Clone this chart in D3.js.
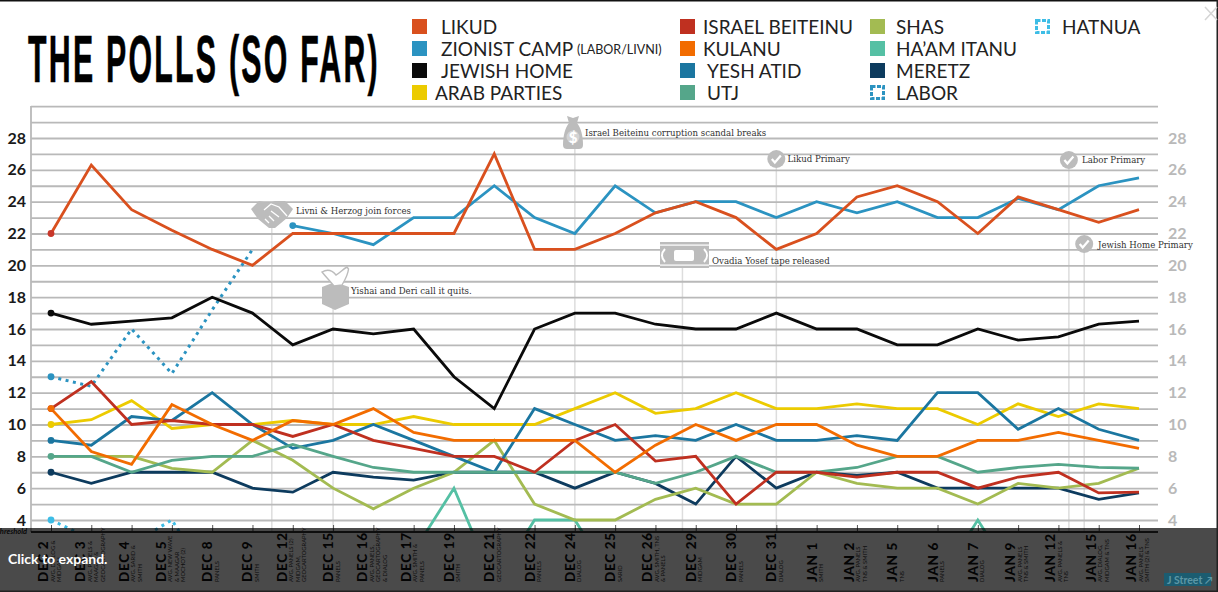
<!DOCTYPE html>
<html>
<head>
<meta charset="utf-8">
<script src="https://cdn.jsdelivr.net/npm/d3@7/dist/d3.min.js"></script>
<style>
  html, body { margin: 0; padding: 0; background: #fff; }
  svg { display: block; font-family: Lato, sans-serif; }
</style>
</head>
<body>
<svg id="chart" width="1218" height="592"></svg>
<script>
const dates = ["DEC 2","DEC 3","DEC 4","DEC 5","DEC 8","DEC 9","DEC 12","DEC 15","DEC 16","DEC 17","DEC 19","DEC 21","DEC 22","DEC 24","DEC 25","DEC 26","DEC 29","DEC 30","DEC 31","JAN 1","JAN 2","JAN 5","JAN 6","JAN 7","JAN 9","JAN 12","JAN 15","JAN 16"];
const pollsters = [
  ["AVG. DIALOG &","MIDGAM"],["AVG. PANELS &","MAAGAR &","GEOCARTOGRAPHY"],["AVG. SARID &","SMITH"],["AVG. NEW WAVE","& MAAGAR","MOCHOT (2)"],["PANELS"],["SMITH"],
  ["AVG. PANELS (2)","MIDGAM,","GEOCARTOGRAPHY"],["PANELS"],["AVG. PANELS,","GEOCARTOGRAPHY","& DIALOG"],["AVG. SMITH &","PANELS"],["SMITH"],["GEOCARTOGRAPHY"],
  ["PANELS"],["DIALOG"],["SARID"],["AVG. SMITH, TNS","& PANELS"],["MIDGAM"],["PANELS"],["DIALOG"],["SMITH"],["AVG. PANELS","TNS & SMITH"],["TNS"],["PANELS"],["DIALOG"],
  ["AVG. PANELS","TNS & SMITH"],["AVG. PANELS &","TNS"],["AVG. DIALOG,","MIDGAM & TNS"],["AVG. PANELS","SMITH (2) & TNS"]
];

const likud    = [22,26.3,23.5,22.2,21,20,22,22,22,22,22,27,21,21,22,23.3,24,23,21,22,24.3,25,24,22,24.3,23.5,22.7,23.5];
const zionist  = [null,null,null,null,null,null,22.5,22,21.3,23,23,25,23,22,25,23.3,24,24,23,24,23.3,24,23,23,24.2,23.5,25,25.5];
const jewish   = [17,16.3,16.5,16.7,18,17,15,16,15.7,16,13,11,16,17,17,16.3,16,16,17,16,16,15,15,16,15.3,15.5,16.3,16.5];
const arab     = [10,10.3,11.5,9.75,10,10,10.25,10,10,10.5,10,10,10,11,12,10.7,11,12,11,11,11.3,11,11,10,11.3,10.5,11.3,11];
const beiteinu = [11,12.7,10,10.25,10,10,9.25,10,9,8.5,8,8,7,9,10,7.7,8,5,7,7,6.7,7,7,6,6.7,7,5.7,5.75];
const kulanu   = [11,8.3,7.5,11.25,10,9,10.25,10,11,9.5,9,9,9,9,7,8.7,10,9,10,10,8.7,8,8,9,9,9.5,9,8.5];
const yesh     = [9,8.7,10.5,10.25,12,10,8.5,9,10,9,8,7,11,10,9,9.3,9,10,9,9,9.3,9,12,12,9.7,11,9.7,9];
const utj      = [8,8,7,7.75,8,8,8.75,8,7.3,7,7,7,7,7,7,6.3,7,8,7,7,7.3,8,8,7,7.3,7.5,7.3,7.25];
const shas     = [8,8,8,7.25,7,9,7.75,6,4.7,6,7,9,5,4,4,5.3,6,5,5,7,6.3,6,6,5,6.3,6,6.3,7.25];
const haam     = [0,0,0,0,0,0,0,0,0,2,6,0,4,4,0,0,0,0,0,0,0,0,0,4,0,0,0,0];
const meretz   = [7,6.3,7,7,7,6,5.75,7,6.7,6.5,7,7,7,6,7,6.3,5,8,6,7,6.8,7,6,6,6,6,5.3,5.7];
const labor    = [13,12.4,16,13.2,17.2,21];
const hatnua   = [4,2.8,2.5,4,0];

const series = [
  { name: "labor", color: "#2b93c1", values: labor, dotted: true },
  { name: "hatnua", color: "#3dbde6", values: hatnua, dotted: true },
  { name: "haam", color: "#55c0a4", values: haam, nodot: true },
  { name: "arab", color: "#eccb00", values: arab },
  { name: "meretz", color: "#0d3b5e", values: meretz },
  { name: "shas", color: "#a3bb52", values: shas, nodot: true },
  { name: "yesh", color: "#1b76a0", values: yesh },
  { name: "utj", color: "#55a68a", values: utj },
  { name: "beiteinu", color: "#bf3020", values: beiteinu },
  { name: "kulanu", color: "#f26c00", values: kulanu },
  { name: "jewish", color: "#0a0a0a", values: jewish },
  { name: "zionist", color: "#2b93c1", values: zionist },
  { name: "likud", color: "#d9501e", values: likud, dotColor: "#c8372a" }
];

const legendCols = [
  [["LIKUD","#d9501e"],["ZIONIST CAMP","#2b93c1"],["JEWISH HOME","#0a0a0a"],["ARAB PARTIES","#eccb00"]],
  [["ISRAEL BEITEINU","#bf3020"],["KULANU","#f26c00"],["YESH ATID","#1b76a0"],["UTJ","#55a68a"]],
  [["SHAS","#a3bb52"],["HA\u2019AM ITANU","#55c0a4"],["MERETZ","#0d3b5e"],["LABOR","#2b93c1"]],
  [["HATNUA","#3dbde6"]]
];
const legendSwatchX = [412, 680, 870, 1035];
const legendTextX = [[441,441,441,435],[703,703,707,707],[896,896,896,896],[1062]];

// x is in date index, events can sit between two polls
const events = [
  { label: "Livni & Herzog join forces", at: 5.48, top: 225, tx: 296, ty: 210 },
  { label: "Yishai and Deri call it quits.", at: 7, top: 305, tx: 351, ty: 290.5 },
  { label: "Israel Beiteinu corruption scandal breaks", at: 13, top: 148, tx: 585, ty: 132 },
  { label: "Ovadia Yosef tape released", at: 15.67, top: 268, tx: 712, ty: 260 },
  { label: "Likud Primary", at: 18, top: 168, tx: 787.5, ty: 158.5 },
  { label: "Labor Primary", at: 25.26, top: 168, tx: 1082, ty: 159.5 },
  { label: "Jewish Home Primary", at: 25.64, top: 252, tx: 1098, ty: 244.5 }
];

const svg = d3.select("#chart");
const x = d3.scaleLinear().domain([0, 27]).range([51, 1139]);
const y = d3.scaleLinear().domain([4, 28]).range([520, 138]);
const left = 31, right = 1158, bottom = 532;
const lineFn = (vals) => d3.line()
  .defined((d) => d != null)
  .x((d, i) => x(i))
  .y((d) => y(d))(vals);

svg.append("defs").append("clipPath").attr("id", "plot")
  .append("rect").attr("x", 0).attr("y", 0).attr("width", 1218).attr("height", bottom);

svg.append("rect").attr("width", 1218).attr("height", 1.5).attr("fill", "#111");

// title, squeezed by hand because there is no condensed gothic here
const title = svg.append("text")
  .style("font-family", "'Liberation Sans', sans-serif")
  .style("font-weight", 700).style("font-size", "67px")
  .style("letter-spacing", "5px")
  .attr("stroke", "#000").attr("stroke-width", 0.6)
  .text("THE POLLS (SO FAR)");
title.attr("transform", `translate(28,82) scale(${352 / title.node().getComputedTextLength()},1)`);

// legend
legendCols.forEach((col, c) => {
  col.forEach((item, r) => {
    const cy = 26.5 + r * 22;
    const hollow = item[0] === "LABOR" || item[0] === "HATNUA";
    svg.append("rect")
      .attr("x", legendSwatchX[c] + (hollow ? 1.5 : 0)).attr("y", cy - 7.5 + (hollow ? 1.5 : 0))
      .attr("width", hollow ? 12 : 15).attr("height", hollow ? 12 : 15)
      .attr("fill", hollow ? "#fff" : item[1])
      .attr("stroke", hollow ? item[1] : "none")
      .attr("stroke-width", hollow ? 3 : 0)
      .attr("stroke-dasharray", hollow ? "4 1.5" : null);
    svg.append("text")
      .attr("x", legendTextX[c][r]).attr("y", cy + 7)
      .attr("fill", "#222")
      .style("font-size", "19px")
      .text(item[0]);
  });
});
svg.append("text").attr("x", 577).attr("y", 54).attr("fill", "#222")
  .style("font-size", "12.5px").text("(LABOR/LIVNI)");

// event rules under the grid
svg.append("g").selectAll("line").data(events).join("line")
  .attr("x1", (d) => x(d.at)).attr("x2", (d) => x(d.at))
  .attr("y1", (d) => d.top).attr("y2", bottom)
  .attr("stroke", "#ddd").attr("stroke-width", 1.5);

// grid
const gridVals = d3.range(4, 31);
const grid = svg.append("g").attr("transform", `translate(${left},0)`)
  .call(d3.axisLeft(y).tickValues(gridVals).tickSize(-(right - left)).tickFormat(""));
grid.select(".domain").remove();
grid.selectAll("line").attr("stroke", "#b9b9b9").attr("stroke-width", 1.8);

svg.append("line").attr("x1", left).attr("x2", left).attr("y1", 106).attr("y2", bottom)
  .attr("stroke", "#b9b9b9").attr("stroke-width", 1.8);

const evenVals = d3.range(4, 29, 2);
const yLeft = svg.append("g").attr("transform", "translate(27,0)")
  .call(d3.axisLeft(y).tickValues(evenVals).tickSize(0));
yLeft.select(".domain").remove();
yLeft.selectAll("text").attr("x", -1).attr("fill", "#1a1a1a")
  .style("font-family", "Lato, sans-serif").style("font-size", "16px").style("font-weight", 700);

const yRight = svg.append("g").attr("transform", "translate(1168,0)")
  .call(d3.axisRight(y).tickValues(evenVals).tickSize(0));
yRight.select(".domain").remove();
yRight.selectAll("text").attr("x", 0).attr("fill", "#b9b9b9")
  .style("font-family", "Lato, sans-serif").style("font-size", "16px").style("font-weight", 700);

// series
const lines = svg.append("g").attr("clip-path", "url(#plot)");
lines.selectAll("path").data(series).join("path")
  .attr("d", (d) => lineFn(d.values))
  .attr("fill", "none")
  .attr("stroke", (d) => d.color)
  .attr("stroke-width", (d) => (d.dotted ? 3 : 2.8))
  .attr("stroke-linejoin", "miter")
  .attr("stroke-dasharray", (d) => (d.dotted ? "3 4.5" : null));

lines.selectAll("circle")
  .data(series.filter((d) => !d.nodot))
  .join("circle")
  .attr("cx", (d) => x(d.values.findIndex((v) => v != null)))
  .attr("cy", (d) => y(d.values.find((v) => v != null)))
  .attr("r", 3.4)
  .attr("fill", (d) => d.dotColor || d.color);

// icons, all in the same flat grey
const iconGrey = "#bcbcbc";
const icons = svg.append("g").attr("fill", iconGrey);

// handshake
const hs = icons.append("g").attr("transform", "translate(251,200)");
hs.append("path").attr("d", "M0 9 L8 1 L18 3 L24 1 L34 1 L42 9 L36 18 L24 28 L18 28 L7 19 Z");
hs.append("path").attr("d", "M13 10 L20 4 L28 7 L36 16 M20 11 L28 17 M14 19 L18 23 M18 16 L23 21")
  .attr("fill", "none").attr("stroke", "#fff").attr("stroke-width", 1.3);

// ballot going into the box
const bag = icons.append("g").attr("transform", "translate(321,266)");
bag.append("path").attr("d", "M1 21 L14 16 L28 21 L28 38 L14 44 L1 38 Z");
bag.append("path").attr("d", "M1 6 C6 3 11 4 15 9 C19 7 22 3 26 1 L27.5 3 C27 9 24 14 21 19 L13 20 C9 15 5 11 1 6 Z")
  .attr("fill", "#fff").attr("stroke", iconGrey).attr("stroke-width", 1.4);

// money bag
const money = icons.append("g").attr("transform", "translate(563,116)");
money.append("path").attr("d", "M4 0 L10 2 L16 0 L14 7 C18 12 20 20 20 29 C20 32 18 33 16 33 L4 33 C2 33 0 32 0 29 C0 20 2 12 6 7 Z");
money.append("circle").attr("cx", 10).attr("cy", 21).attr("r", 6.5).attr("fill", "#fff").attr("fill-opacity", 0.35);
money.append("text").attr("x", 10).attr("y", 26.5).attr("text-anchor", "middle")
  .attr("fill", "#fff").style("font-size", "15px").style("font-weight", 900).text("$");

// tape
const tape = icons.append("g").attr("transform", "translate(660,242)");
tape.append("rect").attr("width", 49).attr("height", 26);
tape.append("rect").attr("y", 2.5).attr("width", 49).attr("height", 1.2).attr("fill", "#fff");
tape.append("rect").attr("y", 22.5).attr("width", 49).attr("height", 1.2).attr("fill", "#fff");
tape.append("rect").attr("x", 14).attr("y", 8).attr("width", 20).attr("height", 11).attr("rx", 2).attr("fill", "#fff");
tape.append("path").attr("d", "M5 7 C1 11 1 16 5 20 M44 7 C48 11 48 16 44 20")
  .attr("fill", "none").attr("stroke", "#fff").attr("stroke-width", 2);

// check marks on the three primaries
[[18, 159], [25.26, 160], [25.64, 244]].forEach((c) => {
  const g = icons.append("g").attr("transform", `translate(${x(c[0])},${c[1]})`);
  g.append("circle").attr("r", 9);
  g.append("path").attr("d", "M-4.5 0 L-1.5 3.5 L4.5 -3.5")
    .attr("fill", "none").attr("stroke", "#fff").attr("stroke-width", 2.2);
});

svg.append("g").selectAll("text").data(events).join("text")
  .attr("x", (d) => d.tx).attr("y", (d) => d.ty + 3.5)
  .attr("fill", "#333")
  .style("font-family", "'DejaVu Serif', serif")
  .style("font-size", "8.6px")
  .text((d) => d.label);

// date axis, ends up under the dark strip
const xAxis = svg.append("g").attr("transform", `translate(0,${bottom})`)
  .call(d3.axisBottom(x).tickValues(d3.range(0, 28)).tickSizeInner(-7).tickSizeOuter(0).tickFormat(""));
xAxis.select(".domain").remove();
xAxis.selectAll("line").attr("stroke", "#555").attr("stroke-width", 1);
svg.append("line").attr("x1", left).attr("x2", right).attr("y1", bottom).attr("y2", bottom)
  .attr("stroke", "#333").attr("stroke-width", 2);

svg.append("text").attr("x", 27).attr("y", 534).attr("text-anchor", "end")
  .attr("fill", "#222")
  .style("font-size", "7.5px").style("font-style", "italic").style("font-weight", 700)
  .text("threshold");

const nudge = [0, -5, -8, -11];
const dateLabels = svg.append("g").selectAll("g").data(dates).join("g")
  .attr("transform", (d, i) => `translate(${x(i) + nudge[pollsters[i].length]},582) rotate(-90)`);
dateLabels.append("text")
  .attr("y", 5).attr("fill", "#111")
  .style("font-size", "13.5px").style("font-weight", 900).style("letter-spacing", "0.7px")
  .text((d) => d);
dateLabels.each(function (d, i) {
  d3.select(this).selectAll("text.src").data(pollsters[i]).join("text")
    .attr("class", "src")
    .attr("x", 0).attr("y", (t, k) => 11.5 + k * 6.5)
    .attr("fill", "#333")
    .style("font-size", "5.8px")
    .text((t) => t);
});

// click to expand strip
svg.append("rect").attr("x", 0).attr("y", 528).attr("width", 1218).attr("height", 64)
  .attr("fill", "#000").attr("fill-opacity", 0.71);
svg.append("rect").attr("x", 0).attr("y", 590.5).attr("width", 1218).attr("height", 1.5).attr("fill", "#222");
svg.append("rect").attr("x", 1216.5).attr("y", 0).attr("width", 1.5).attr("height", 592).attr("fill", "#222");

svg.append("text").attr("x", 8).attr("y", 564).attr("fill", "#fff")
  .style("font-size", "14px").style("font-weight", 700).text("Click to expand.");

svg.append("rect").attr("x", 1164).attr("y", 573).attr("width", 47).attr("height", 13)
  .attr("fill", "#1b5c70");
svg.append("text").attr("x", 1167).attr("y", 583.5).attr("fill", "#5d97a6")
  .style("font-size", "10.5px").style("font-weight", 700).text("J Street \u2197");

// close button
svg.append("path").attr("d", "M1205 7 L1217 20 M1217 7 L1205 20")
  .attr("stroke", "#d5d5d5").attr("stroke-width", 1.5);
</script>
</body>
</html>
